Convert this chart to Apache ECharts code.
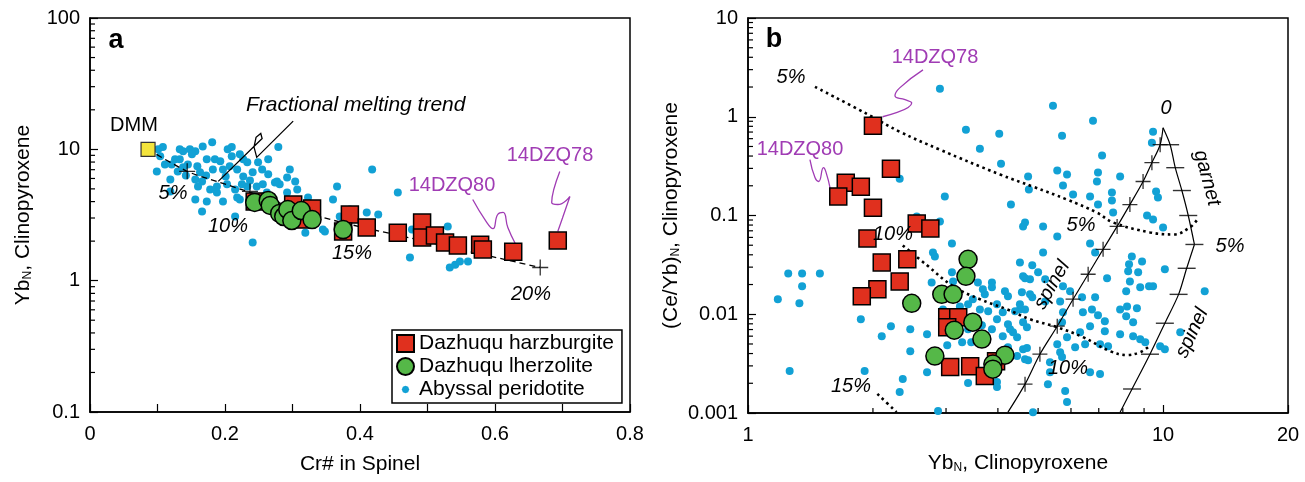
<!DOCTYPE html>
<html><head><meta charset="utf-8">
<script src="https://cdn.jsdelivr.net/npm/echarts/dist/echarts.min.js"></script>
<style>html,body{margin:0;padding:0;background:#fff}#c{width:1305px;height:482px}</style>
</head><body><div id="c"></div>
<script>
// ---------- Panel a data ----------
const aXTicks = [0, 0.2, 0.4, 0.6, 0.8];
const aYTicks = [0.1, 1, 10, 100];
const aYMinor = [0.2,0.3,0.4,0.5,0.6,0.7,0.8,0.9,2,3,4,5,6,7,8,9,20,30,40,50,60,70,80,90];
const aDMM = [[0.086, 10]];
const aHarz = [[0.244,4.01],[0.301,3.80],[0.329,3.55],[0.316,2.92],[0.385,3.19],[0.375,2.37],[0.410,2.54],[0.456,2.32],[0.492,2.77],[0.492,2.13],[0.511,2.21],[0.526,1.95],[0.545,1.85],[0.578,1.88],[0.582,1.73],[0.627,1.66],[0.693,2.02]];
const aLherz = [[0.244,3.94],[0.264,4.08],[0.267,3.74],[0.281,3.25],[0.287,3.08],[0.293,3.48],[0.299,2.87],[0.313,3.42],[0.329,2.92],[0.375,2.45]];
const aAbyssal = [[0.101,10.0],[0.108,10.4],[0.099,6.79],[0.111,7.68],[0.119,5.90],[0.133,8.39],[0.138,9.65],[0.148,10.0],[0.156,9.65],[0.151,9.16],
[0.138,7.29],[0.145,7.68],[0.159,7.42],[0.163,6.68],[0.156,5.90],[0.166,5.70],[0.173,8.39],[0.181,11.3],[0.167,10.5],[0.185,8.39],
[0.182,7.03],[0.193,8.10],[0.197,7.03],[0.204,10.0],[0.210,8.84],[0.188,4.70],[0.197,4.01],[0.166,3.36],[0.156,4.15],[0.218,7.03],
[0.227,8.39],[0.227,6.22],[0.241,6.68],[0.233,5.22],[0.247,5.22],[0.264,8.39],[0.279,10.4],[0.255,7.03],[0.264,6.45],[0.277,5.70],
[0.292,6.11],[0.304,5.70],[0.307,4.95],[0.323,4.30],[0.345,2.45],[0.360,4.15],[0.366,5.22],[0.375,3.08],[0.385,3.48],[0.418,7.03],
[0.241,1.95],[0.130,6.79],[0.119,4.78],[0.160,5.22],[0.104,8.84],[0.133,10.0],[0.203,5.41],[0.215,4.95],[0.222,4.15],[0.240,4.38],
[0.262,4.70],[0.281,5.41],[0.292,4.70],[0.173,4.01],[0.188,5.22],[0.210,10.4],[0.222,9.16],[0.207,7.42],[0.233,7.96],[0.274,5.60],
[0.218,4.30],[0.456,4.70],[0.215,3.08],[0.319,2.32],[0.348,2.37],[0.370,3.08],[0.410,3.31],[0.427,3.19],[0.474,1.50],[0.484,2.32],
[0.530,2.58],[0.533,1.26],[0.541,1.32],[0.548,1.40],[0.560,1.40],[0.225,5.41],[0.477,2.45],
[0.126,8.39],[0.142,6.33],[0.172,6.33],[0.178,4.95],[0.237,5.80],[0.249,7.96],[0.201,6.22],[0.121,7.68],[0.256,5.41],[0.296,7.03]];
const aTrend = [[0.086,10],[0.144,6.8],[0.188,5.7],[0.233,4.78],[0.345,3.03],[0.484,2.06],[0.667,1.26]];
const aTrendMarks = [[0.144,6.8],[0.237,4.78],[0.378,2.82],[0.667,1.26]];
const aArrow = [[0.301,16.4],[0.247,8.69],[0.243,10.4],[0.246,12.35],[0.253,13.2],[0.255,12.1],[0.190,5.70]];
const aSq80 = [[0.567,4.15],[0.587,2.82],[0.597,2.49],[0.604,3.19],[0.612,3.31],[0.619,2.54],[0.630,1.92]];
const aSq78 = [[0.696,6.79],[0.684,3.94],[0.693,3.80],[0.711,4.38],[0.700,3.0],[0.693,2.37]];

// ---------- Panel b data ----------
const bXTicks = [1, 10, 20];
const bXMinor = [2,3,4,5,6,7,8,9];
const bYTicks = [0.001, 0.01, 0.1, 1, 10];
const bYMinor = [0.002,0.003,0.004,0.005,0.006,0.007,0.008,0.009,0.02,0.03,0.04,0.05,0.06,0.07,0.08,0.09,0.2,0.3,0.4,0.5,0.6,0.7,0.8,0.9,2,3,4,5,6,7,8,9];
const bHarz = [[2.00,0.811],[2.21,0.298],[1.72,0.215],[1.87,0.196],[1.65,0.156],[2.00,0.120],[2.55,0.083],[2.75,0.074],[1.94,0.0586],[2.10,0.0335],[2.42,0.036],[2.32,0.0215],[2.05,0.0179],[1.88,0.0152],[3.02,0.0093],[3.21,0.0093],[3.02,0.0074],[3.07,0.00292],[3.43,0.00298],[3.72,0.00237],[3.96,0.00335]];
const bLherz = [[3.39,0.036],[3.35,0.0242],[2.93,0.0159],[3.12,0.0159],[2.48,0.0129],[3.48,0.0083],[3.14,0.0069],[3.66,0.0056],[2.82,0.00377],[4.16,0.00385],[3.89,0.00313],[3.89,0.00278]];
const bAbyssal = [[5.43,1.29],[6.78,0.911],[5.71,0.643],[9.46,0.706],[9.40,0.546],[7.13,0.404],[5.56,0.285],[5.87,0.260],[6.97,0.272],[4.73,0.248],
[7.88,0.248],[6.93,0.221],[5.74,0.201],[4.75,0.183],[6.07,0.163],[7.53,0.171],[9.62,0.175],[9.72,0.152],[6.67,0.156],[7.53,0.142],
[6.97,0.129],[4.30,0.129],[9.15,0.100],[9.46,0.0912],[10.0,0.0757],[7.58,0.107],[5.14,0.0775],[4.60,0.0775],[4.65,0.0850],[5.56,0.0614],
[6.67,0.0521],[6.86,0.0423],[5.14,0.0423],[4.52,0.0335],[4.84,0.0313],[5.00,0.0266],[8.41,0.0385],[8.90,0.0343],[8.28,0.0320],[8.24,0.0272],
[8.71,0.0266],[10.1,0.0285],[4.65,0.0231],[4.78,0.0226],[5.20,0.0226],[7.33,0.0231],[8.32,0.0215],[9.25,0.0192],[9.46,0.0192],[8.81,0.0188],
[12.6,0.0171],[4.16,0.0171],[4.23,0.0152],[4.57,0.0167],[4.84,0.0149],[5.74,0.0192],[5.97,0.0171],[6.38,0.0149],[6.86,0.0149],[8.15,0.0171],
[5.20,0.0135],[5.65,0.0135],[4.52,0.0112],[4.65,0.0112],[5.74,0.0105],[6.41,0.0105],[6.74,0.0112],[6.97,0.00977],[7.88,0.0112],[8.19,0.0120],
[8.65,0.0115],[8.15,0.00955],[8.47,0.00830],[6.67,0.00757],[7.24,0.00850],[7.24,0.00673],[6.31,0.00658],[5.71,0.00830],[4.23,0.00792],[4.70,0.00739],
[4.45,0.00586],[4.35,0.00658],[4.11,0.00600],[7.88,0.00628],[8.47,0.00600],[8.81,0.00559],[9.06,0.00521],[7.05,0.00498],[7.37,0.00475],[9.84,0.00475],
[10.1,0.00443],[11.0,0.00658],[5.87,0.00586],[5.56,0.00498],[6.14,0.00464],[5.65,0.00413],[6.49,0.00498],[4.60,0.00443],[4.65,0.00351],[5.34,0.00327],
[5.71,0.00368],[5.34,0.00259],[6.67,0.00259],[7.05,0.00248],[5.28,0.00196],[5.81,0.00167],[5.87,0.00129],[2.90,1.92],[3.35,0.739],[4.03,0.673],
[3.62,0.475],[4.07,0.335],[2.98,0.156],[2.90,0.0870],[3.10,0.0521],[2.32,0.236],[2.55,0.0977],[2.79,0.0423],[2.82,0.0385],[3.10,0.0266],
[3.12,0.0215],[2.77,0.0210],[1.25,0.0259],[1.35,0.0259],[1.49,0.0259],[1.35,0.0192],[1.18,0.0142],[1.33,0.0129],[1.87,0.00890],[2.21,0.00757],
[2.46,0.00705],[2.70,0.00628],[2.10,0.00600],[2.46,0.00423],[3.02,0.00486],[3.28,0.00521],[3.45,0.00521],[1.26,0.00266],[1.91,0.00266],[2.70,0.00259],
[2.36,0.00221],[2.32,0.00163],[2.87,0.00105],[3.39,0.00201],[3.98,0.00206],[3.98,0.00183],[3.87,0.0210],[3.87,0.0188],[3.68,0.0179],[3.48,0.0142],
[4.60,0.0242],[4.78,0.0159],[4.52,0.0126],[4.40,0.0107],[4.28,0.00705],[4.60,0.00830],[4.23,0.00464],[4.45,0.00377],[4.70,0.00454],[4.73,0.00343],
[3.98,0.00890],[3.87,0.00705],[3.66,0.00774],[4.11,0.0105],[2.95,0.0112],[3.24,0.0120],[3.39,0.0126],[3.79,0.0107],[3.62,0.0112],[3.98,0.0126],
[3.72,0.0159],[3.58,0.0210],[3.39,0.00705],[3.15,0.00658],[4.86,0.00102]];
const bMelt5 = [[1.45,2.01],[1.95,1.05],[2.32,0.706],[2.90,0.464],[4.05,0.260],[4.86,0.196],[5.87,0.145],[6.93,0.107],[7.58,0.085],[9.30,0.0674],[10.6,0.0643],[11.6,0.0757],[12.1,0.0912]];
const bMelt10 = [[2.36,0.0498],[2.70,0.0313],[3.12,0.0192],[3.62,0.0142],[4.21,0.0112],[4.78,0.0089],[5.56,0.00739],[6.41,0.00586],[7.45,0.00423],[8.19,0.00386],[8.81,0.00413],[9.20,0.00464]];
const bMelt15 = [[2.05,0.00156],[2.28,0.00102]];
const bSpinelA = [[10.0,0.774],[9.84,0.521],[9.40,0.343],[8.95,0.221],[8.32,0.129],[7.75,0.0775],[7.17,0.0454],[6.60,0.0254],[6.07,0.0142],[5.56,0.00757],[5.05,0.00394],[4.65,0.00196],[4.23,0.00102]];
const bSpinelATicks = [[9.84,0.521],[9.40,0.343],[8.95,0.221],[8.32,0.129],[7.75,0.0775],[7.17,0.0454],[6.60,0.0254],[6.07,0.0142],[5.56,0.00757],[5.05,0.00394],[4.65,0.00196]];
const bGarnet = [[10.0,0.774],[10.4,0.521],[10.7,0.305],[11.1,0.179],[11.5,0.100],[11.9,0.0509]];
const bGarnetTicks = [[10.4,0.521],[10.7,0.305],[11.1,0.179],[11.5,0.100],[11.9,0.0509]];
const bSpinelB = [[11.9,0.0509],[11.4,0.0292],[10.9,0.0159],[10.1,0.00811],[9.30,0.00394],[8.42,0.00175],[7.88,0.00102]];
const bSpinelBTicks = [[11.4,0.0292],[10.9,0.0159],[10.1,0.00811],[9.30,0.00394],[8.42,0.00175]];
const bSq78 = [[2.64,2.98],[2.32,1.96],[2.26,1.63],[2.39,1.49],[2.48,1.38],[2.11,1.0]];
const bSq80 = [[1.41,0.368],[1.45,0.242],[1.48,0.221],[1.52,0.305],[1.54,0.278],[1.58,0.183]];

// ---------- styles ----------
const FONT = 'Liberation Sans, Arial, sans-serif';
const RED = '#e0301e', GREEN = '#55b848', BLUE = '#12a1d5', YEL = '#f3e43c', PURP = '#a03cb4';
const CROSS = 'path://M0,7L14,7M7,0L7,14';
const DOT = 'path://M0,0M16,16M8,4.5L10.5,5.5L11.5,8L10.5,10.5L8,11.5L5.5,10.5L4.5,8L5.5,5.5Z';

function baseAxis(gi, type, min, max, extra) {
  return Object.assign({
    gridIndex: gi, type: type, min: min, max: max,
    axisLine: { show: true, lineStyle: { color: '#000', width: 1.5 } },
    axisTick: { show: true, inside: true, length: 8, lineStyle: { color: '#000', width: 1.2 } },
    axisLabel: { fontSize: 20, color: '#000', fontFamily: FONT },
    splitLine: { show: false },
    nameLocation: 'middle',
    nameTextStyle: { fontSize: 21, color: '#000', fontFamily: FONT,
      rich: { s: { fontSize: 12, fontFamily: FONT, color: '#000', verticalAlign: 'bottom', padding: [8, 0, 0, 0] } } }
  }, extra || {});
}
function yMinor(gi, xMin, vals) {
  return { type: 'custom', xAxisIndex: gi, yAxisIndex: gi, silent: true, z: 20, clip: false,
    data: vals.map(v => [xMin, v]),
    renderItem: (p, api) => { const c = api.coord([api.value(0), api.value(1)]);
      return { type: 'line', shape: { x1: c[0], y1: c[1], x2: c[0] + 5, y2: c[1] }, style: { stroke: '#000', lineWidth: 1.2 } }; } };
}
function xMinor(gi, yMin, vals) {
  return { type: 'custom', xAxisIndex: gi, yAxisIndex: gi, silent: true, z: 20, clip: false,
    data: vals.map(v => [v, yMin]),
    renderItem: (p, api) => { const c = api.coord([api.value(0), api.value(1)]);
      return { type: 'line', shape: { x1: c[0], y1: c[1], x2: c[0], y2: c[1] - 5 }, style: { stroke: '#000', lineWidth: 1.2 } }; } };
}
function txt(x, y, s, o) {
  o = o || {};
  return { type: 'text', x: x, y: y, rotation: (o.rot || 0) * Math.PI / 180, z: 50,
    style: { text: s, fill: o.color || '#000', fontSize: o.size || 20, fontFamily: FONT,
      fontStyle: o.italic ? 'italic' : 'normal', fontWeight: o.bold ? 'bold' : 'normal',
      align: o.align || 'center', verticalAlign: 'middle' } };
}
function purpleLine(gi, data) {
  return { type: 'line', xAxisIndex: gi, yAxisIndex: gi, data: data, smooth: 0.5, showSymbol: false, symbol: 'none',
    lineStyle: { color: PURP, width: 1.3 }, z: 6, silent: true };
}
function solidLine(gi, data, sm) {
  return { type: 'line', xAxisIndex: gi, yAxisIndex: gi, data: data, smooth: sm, symbol: 'none',
    lineStyle: { color: '#000', width: 1.2 }, z: 4, silent: true };
}
function dotLine(gi, data) {
  return { type: 'line', xAxisIndex: gi, yAxisIndex: gi, data: data, smooth: 0.4, symbol: 'none',
    lineStyle: { color: '#000', width: 2.6, type: [2.6, 3.6] }, z: 4, silent: true };
}

const option = {
  animation: false,
  backgroundColor: '#fff',
  grid: [
    { left: 90, top: 18, width: 540, height: 394, show: true, borderColor: '#000', borderWidth: 1.5, backgroundColor: 'transparent' },
    { left: 748, top: 18, width: 540, height: 395, show: true, borderColor: '#000', borderWidth: 1.5, backgroundColor: 'transparent' }
  ],
  xAxis: [
    baseAxis(0, 'value', aXTicks[0], aXTicks[aXTicks.length - 1], {
      interval: 0.1, name: 'Cr# in Spinel', nameGap: 42,
      axisLabel: { fontSize: 20, color: '#000', fontFamily: FONT, margin: 12,
        formatter: v => aXTicks.some(t => Math.abs(t - v) < 1e-6) ? String(+v.toFixed(1)) : '' } }),
    baseAxis(1, 'log', bXTicks[0], bXTicks[bXTicks.length - 1], {
      logBase: 10, name: 'Yb{s|N}, Clinopyroxene', nameGap: 40,
      axisLabel: { fontSize: 20, color: '#000', fontFamily: FONT, margin: 12 } })
  ],
  yAxis: [
    baseAxis(0, 'log', aYTicks[0], aYTicks[aYTicks.length - 1], {
      logBase: 10, name: 'Yb{s|N}, Clinopyroxene', nameGap: 56,
      axisLabel: { fontSize: 20, color: '#000', fontFamily: FONT, margin: 10 } }),
    baseAxis(1, 'log', bYTicks[0], bYTicks[bYTicks.length - 1], {
      logBase: 10, name: '(Ce/Yb){s|N}, Clinopyroxene', nameGap: 66,
      axisLabel: { fontSize: 20, color: '#000', fontFamily: FONT, margin: 10 } })
  ],
  legend: {
    left: 392, top: 330, orient: 'vertical', itemGap: 2, itemWidth: 17, itemHeight: 17,
    padding: [3, 8, 3, 4], borderColor: '#000', borderWidth: 1.5, backgroundColor: '#fff',
    textStyle: { fontSize: 21, color: '#000', fontFamily: FONT },
    data: [
      { name: 'Dazhuqu harzburgite', icon: 'rect' },
      { name: 'Dazhuqu lherzolite', icon: 'circle' },
      { name: 'Abyssal peridotite', icon: DOT }
    ]
  },
  series: [
    // panel a
    { name: 'Abyssal peridotite', type: 'scatter', xAxisIndex: 0, yAxisIndex: 0, data: aAbyssal, symbolSize: 8,
      itemStyle: { color: BLUE, opacity: 1 }, z: 2 },
    { type: 'line', xAxisIndex: 0, yAxisIndex: 0, data: aTrend, smooth: 0.3, symbol: 'none',
      lineStyle: { color: '#000', width: 1.3, type: [6, 4] }, z: 3, silent: true },
    { type: 'scatter', xAxisIndex: 0, yAxisIndex: 0, data: aTrendMarks, symbol: CROSS, symbolSize: 16,
      itemStyle: { color: 'none', borderColor: '#000', borderWidth: 1.3 }, z: 3, silent: true },
    { type: 'scatter', xAxisIndex: 0, yAxisIndex: 0, data: aDMM, symbol: 'rect', symbolSize: 14,
      itemStyle: { color: YEL, borderColor: '#333', borderWidth: 1.2, opacity: 1 }, z: 5 },
    { name: 'Dazhuqu harzburgite', type: 'scatter', xAxisIndex: 0, yAxisIndex: 0, data: aHarz, symbol: 'rect', symbolSize: 17,
      itemStyle: { color: RED, borderColor: '#000', borderWidth: 1.5, opacity: 1 }, z: 6 },
    { name: 'Dazhuqu lherzolite', type: 'scatter', xAxisIndex: 0, yAxisIndex: 0, data: aLherz, symbol: 'circle', symbolSize: 18,
      itemStyle: { color: GREEN, borderColor: '#000', borderWidth: 1.5, opacity: 1 }, z: 7 },
    { type: 'lines', coordinateSystem: 'cartesian2d', xAxisIndex: 0, yAxisIndex: 0, polyline: true,
      symbol: ['none', 'arrow'], symbolSize: 12, lineStyle: { color: '#000', width: 1.3, opacity: 1 },
      data: [{ coords: aArrow }], z: 8, silent: true },
    purpleLine(0, aSq80), purpleLine(0, aSq78),
    yMinor(0, aXTicks[0], aYMinor),
    // panel b
    { name: 'Abyssal peridotite', type: 'scatter', xAxisIndex: 1, yAxisIndex: 1, data: bAbyssal, symbolSize: 8,
      itemStyle: { color: BLUE, opacity: 1 }, z: 2 },
    dotLine(1, bMelt5), dotLine(1, bMelt10), dotLine(1, bMelt15),
    solidLine(1, bSpinelA, 0.3), solidLine(1, bGarnet, 0.3), solidLine(1, bSpinelB, 0.3),
    { type: 'scatter', xAxisIndex: 1, yAxisIndex: 1, data: bSpinelATicks, symbol: CROSS, symbolSize: 15,
      itemStyle: { color: 'none', borderColor: '#000', borderWidth: 1.3 }, z: 4, silent: true },
    { type: 'scatter', xAxisIndex: 1, yAxisIndex: 1, data: bGarnetTicks.concat(bSpinelBTicks), symbol: 'rect', symbolSize: [18, 1.4],
      itemStyle: { color: '#000' }, z: 4, silent: true },
    { name: 'Dazhuqu harzburgite', type: 'scatter', xAxisIndex: 1, yAxisIndex: 1, data: bHarz, symbol: 'rect', symbolSize: 17,
      itemStyle: { color: RED, borderColor: '#000', borderWidth: 1.5, opacity: 1 }, z: 6 },
    { name: 'Dazhuqu lherzolite', type: 'scatter', xAxisIndex: 1, yAxisIndex: 1, data: bLherz, symbol: 'circle', symbolSize: 18,
      itemStyle: { color: GREEN, borderColor: '#000', borderWidth: 1.5, opacity: 1 }, z: 7 },
    purpleLine(1, bSq78), purpleLine(1, bSq80),
    yMinor(1, bXTicks[0], bYMinor),
    xMinor(1, bYTicks[0], bXMinor)
  ],
  graphic: [
    txt(116, 41, 'a', { bold: true, size: 27 }),
    txt(134, 125, 'DMM'),
    txt(246, 105, 'Fractional melting trend', { italic: true, align: 'left', size: 21 }),
    txt(173, 193, '5%', { italic: true }),
    txt(228, 226, '10%', { italic: true }),
    txt(352, 253, '15%', { italic: true }),
    txt(531, 294, '20%', { italic: true }),
    txt(452, 185, '14DZQ80', { color: PURP }),
    txt(550, 155, '14DZQ78', { color: PURP }),
    txt(774, 40, 'b', { bold: true, size: 27 }),
    txt(791, 77, '5%', { italic: true }),
    txt(935, 57, '14DZQ78', { color: PURP }),
    txt(800, 149, '14DZQ80', { color: PURP }),
    txt(893, 234, '10%', { italic: true }),
    txt(1081, 225, '5%', { italic: true }),
    txt(1166, 108, '0', { italic: true }),
    txt(1207, 178, 'garnet', { italic: true, rot: -75 }),
    txt(1230, 246, '5%', { italic: true }),
    txt(1052, 285, 'spinel', { italic: true, rot: 60 }),
    txt(1192, 333, 'spinel', { italic: true, rot: 65 }),
    txt(1068, 368, '10%', { italic: true }),
    txt(851, 386, '15%', { italic: true })
  ]
};
const chart = echarts.init(document.getElementById('c'), null, { renderer: 'canvas' });
chart.setOption(option);
</script></body></html>
